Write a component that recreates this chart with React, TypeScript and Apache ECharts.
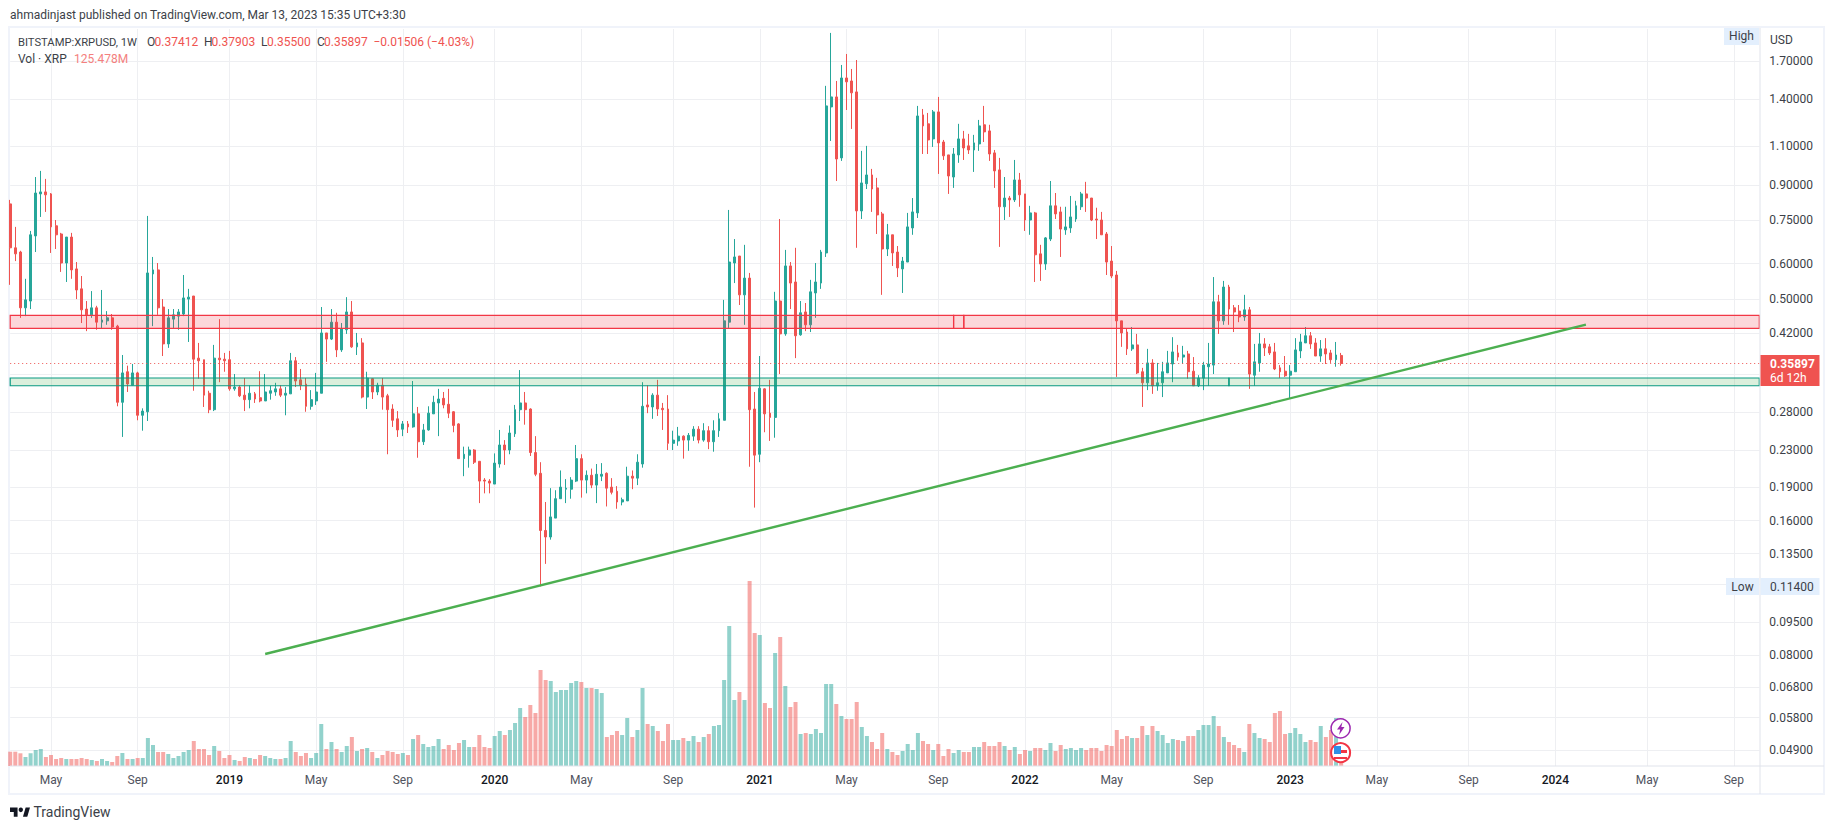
import React, { useEffect, useRef } from "react";
import * as echarts from "echarts";

// [open, high, low, close] per week
const ohlc2018 = [[.816,.833,.538,.651],[.651,.725,.608,.631],[.637,.641,.454,.478],[.478,.555,.458,.498],[.495,.710,.475,.696],[.692,.937,.637,.863],[.859,.967,.763,.868],[.868,.928,.783,.855],[.859,.863,.634,.725],[.729,.751,.647,.696],[.699,.703,.575,.602],[.602,.688,.546,.688],[.688,.703,.555,.581],[.584,.605,.500,.524],[.527,.563,.442,.473],[.475,.495,.424,.461],[.461,.521,.454,.478],[.478,.483,.427,.444],[.444,.524,.431,.449],[.447,.470,.438,.454],[.454,.463,.427,.433],[.435,.438,.288,.294],[.294,.375,.246,.342],[.344,.355,.310,.323],[.321,.358,.321,.342],[.342,.344,.268,.275],[.275,.285,.254,.281],[.280,.767,.267,.572],[.569,.621,.435,.581],[.581,.602,.461,.478],[.480,.500,.373,.397],[.397,.475,.389,.454],[.451,.475,.431,.461],[.458,.475,.427,.468],[.463,.566,.458,.503],[.500,.527,.401,.505],[.508,.508,.312,.367],[.369,.399,.332,.364],[.366,.366,.287,.305],[.308,.312,.278,.283],[.283,.395,.281,.369],[.369,.451,.326,.366],[.367,.379,.344,.364]];
const ohlc2019 = [[.366,.383,.312,.315],[.315,.340,.312,.318],[.318,.321,.302,.304],[.305,.333,.281,.298],[.298,.321,.285,.308],[.307,.310,.293,.299],[.301,.345,.294,.296],[.296,.340,.296,.310],[.308,.320,.298,.312],[.310,.325,.304,.315],[.315,.321,.302,.305],[.305,.318,.275,.308],[.307,.379,.307,.364],[.364,.371,.318,.328],[.330,.349,.313,.321],[.323,.333,.280,.288],[.288,.313,.283,.298],[.296,.342,.290,.310],[.308,.480,.308,.420],[.420,.420,.362,.407],[.407,.475,.405,.444],[.444,.466,.371,.385],[.385,.442,.381,.429],[.427,.505,.418,.468],[.468,.495,.389,.391],[.391,.420,.375,.399],[.399,.409,.300,.302],[.302,.344,.284,.333],[.332,.333,.299,.310],[.310,.325,.305,.321],[.321,.333,.283,.302],[.304,.307,.225,.283],[.284,.291,.259,.268],[.270,.281,.246,.255],[.256,.267,.247,.263],[.263,.267,.251,.259],[.259,.328,.258,.277],[.277,.287,.221,.240],[.240,.263,.236,.255],[.255,.288,.254,.278],[.277,.304,.277,.294],[.293,.315,.247,.299],[.300,.310,.285,.290],[.291,.315,.271,.278],[.280,.281,.252,.261],[.263,.264,.220,.220],[.220,.234,.201,.225],[.224,.234,.210,.230],[.230,.231,.214,.216],[.217,.217,.175,.196],[.197,.199,.184,.196],[.196,.198,.184,.194]];
const ohlc2020 = [[.193,.226,.193,.215],[.214,.255,.210,.236],[.236,.242,.213,.230],[.230,.261,.225,.251],[.250,.290,.246,.283],[.283,.347,.267,.293],[.293,.310,.262,.283],[.284,.285,.223,.227],[.227,.247,.201,.203],[.204,.216,.114,.152],[.152,.176,.128,.147],[.147,.189,.145,.163],[.162,.187,.162,.179],[.179,.207,.179,.190],[.188,.198,.175,.189],[.188,.200,.179,.197],[.196,.236,.195,.220],[.220,.225,.180,.197],[.197,.207,.184,.202],[.202,.209,.189,.192],[.192,.214,.175,.203],[.201,.215,.196,.203],[.204,.205,.172,.189],[.190,.199,.183,.185],[.186,.191,.170,.176],[.176,.180,.173,.178],[.177,.211,.177,.201],[.201,.207,.188,.199],[.199,.225,.192,.216],[.214,.326,.210,.288],[.290,.321,.278,.287],[.287,.308,.270,.305],[.305,.330,.274,.284],[.285,.293,.255,.283],[.284,.305,.230,.238],[.238,.254,.230,.242],[.241,.259,.235,.247],[.247,.248,.220,.242],[.242,.251,.229,.248],[.247,.260,.241,.256],[.256,.260,.238,.242],[.242,.264,.240,.254],[.254,.260,.231,.240],[.240,.268,.228,.254],[.254,.278,.246,.270],[.268,.498,.268,.447],[.444,.791,.431,.605],[.602,.681,.543,.621],[.624,.624,.485,.511],[.511,.661,.438,.557],[.557,.572,.211,.283],[.284,.310,.171,.224]];
const ohlc2021 = [[.225,.373,.216,.316],[.315,.316,.252,.277],[.278,.330,.241,.272],[.272,.519,.245,.495],[.495,.755,.340,.418],[.418,.644,.414,.593],[.593,.605,.475,.543],[.546,.651,.369,.414],[.416,.495,.414,.466],[.468,.490,.424,.438],[.438,.552,.422,.519],[.516,.602,.454,.546],[.543,.644,.527,.637],[.634,1.498,.621,1.351],[1.344,1.967,1.128,1.415],[1.415,1.536,.918,1.028],[1.034,1.668,1.018,1.560],[1.560,1.765,1.323,1.529],[1.536,1.634,1.200,1.445],[1.452,1.711,.651,.787],[.787,1.072,.755,.909],[.905,1.100,.881,.947],[.947,.977,.783,.881],[.886,.933,.699,.771],[.775,.783,.511,.647],[.647,.736,.624,.696],[.696,.696,.593,.634],[.637,.657,.560,.587],[.584,.621,.516,.608],[.605,.779,.605,.725],[.721,.841,.696,.783],[.779,1.351,.759,1.283],[1.290,1.330,1.055,1.219],[1.232,1.303,1.055,1.134],[1.140,1.323,1.094,1.310],[1.310,1.415,.952,1.117],[1.122,1.134,1.023,1.045],[1.050,1.050,.859,.942],[.937,1.088,.886,1.055],[1.050,1.232,1.008,1.140],[1.140,1.188,1.023,1.088],[1.100,1.170,1.055,1.077],[1.077,1.164,.962,1.117],[1.111,1.257,1.072,1.219],[1.226,1.351,1.122,1.182],[1.188,1.226,1.018,1.055],[1.061,1.077,.886,.967],[.972,1.034,.654,.804],[.804,.937,.751,.841],[.841,.850,.763,.833],[.833,1.023,.824,.923],[.923,.957,.804,.855]];
const ohlc2022 = [[.859,.859,.710,.751],[.751,.808,.696,.779],[.779,.783,.546,.628],[.631,.661,.549,.599],[.599,.688,.581,.685],[.681,.918,.674,.808],[.808,.863,.755,.775],[.783,.804,.621,.717],[.714,.804,.696,.725],[.721,.850,.703,.763],[.755,.829,.744,.808],[.804,.868,.791,.859],[.859,.914,.783,.841],[.841,.841,.747,.751],[.755,.800,.681,.751],[.751,.783,.696,.696],[.699,.706,.566,.605],[.608,.657,.557,.563],[.566,.578,.335,.447],[.447,.447,.391,.420],[.422,.429,.375,.387],[.387,.433,.383,.395],[.395,.418,.340,.342],[.344,.351,.287,.325],[.325,.387,.313,.360],[.360,.367,.307,.320],[.320,.360,.312,.325],[.325,.362,.302,.344],[.342,.383,.342,.360],[.358,.411,.326,.381],[.379,.395,.364,.371],[.371,.393,.358,.375],[.377,.383,.332,.344],[.345,.371,.320,.320],[.320,.338,.318,.333],[.333,.362,.313,.356],[.353,.399,.320,.358],[.356,.560,.340,.493],[.493,.511,.418,.447],[.447,.549,.438,.532],[.532,.538,.438,.475],[.478,.485,.422,.468],[.470,.485,.444,.456],[.456,.511,.447,.473],[.473,.480,.315,.340],[.338,.397,.320,.362],[.360,.420,.344,.397],[.397,.409,.373,.389],[.391,.397,.375,.379],[.381,.399,.347,.349],[.351,.356,.333,.344],[.345,.373,.335,.337]];
const ohlc2023 = [[.338,.356,.300,.345],[.344,.409,.344,.385],[.383,.418,.369,.401],[.399,.433,.399,.414],[.414,.422,.387,.397],[.399,.409,.373,.373],[.373,.405,.362,.387],[.387,.409,.358,.377],[.379,.385,.360,.366],[.366,.401,.353,.375],[.37412,.37903,.355,.35897]];

// weekly volume in millions of XRP
const vol2018 = [143,143,127,90,127,160,170,90,110,70,80,70,70,70,80,70,60,50,70,50,40,100,130,70,70,80,80,280,210,140,140,120,80,100,140,160,250,170,170,110,200,150,80];
const vol2019 = [110,60,50,90,80,70,110,100,80,70,70,80,250,140,100,130,80,130,420,170,240,170,140,200,290,150,170,180,140,80,110,150,140,120,130,110,270,310,220,190,200,270,170,210,160,230,260,190,190,310,190,180];
const vol2020 = [300,350,310,360,430,580,490,610,530,960,860,850,740,760,760,830,850,840,780,780,770,730,290,310,350,310,480,290,360,780,420,400,350,250,420,260,260,280,250,300,240,290,320,400,410,860,1400,660,740,660,1850,1330];
const vol2021 = [1310,630,580,1130,1290,800,590,640,320,330,320,370,330,820,820,620,500,470,470,640,390,300,240,170,330,170,140,110,150,220,160,330,250,220,160,220,100,170,130,160,140,140,190,190,240,200,200,240,200,160,190,120];
const vol2022 = [160,150,180,180,160,230,150,210,170,180,160,180,160,180,180,150,210,200,360,270,300,280,280,400,310,400,350,310,230,270,260,250,300,300,360,410,410,500,400,290,240,210,180,140,420,330,280,270,240,530,550,320];
const vol2023 = [330,380,320,240,260,240,400,290,360,480,125.478];

const weekCount = 344;
const firstWeek = "2018-03-12";
const tickWeeks = [8,25,43,60,77,95,112,130,147,164,182,199,216,234,251,268,286,303,321,338];
const tickNames = ["May","Sep","2019","May","Sep","2020","May","Sep","2021","May","Sep","2022","May","Sep","2023","May","Sep","2024","May","Sep"];
const priceLabels = [1.7,1.4,1.1,.9,.75,.6,.5,.42,.28,.23,.19,.16,.135,.095,.08,.068,.058,.049];
const priceGrid = [1.7,1.4,1.1,.9,.75,.6,.5,.42,.34,.28,.23,.19,.16,.135,.115,.095,.08,.068,.058,.049];
const priceMin = 0.04524;
const priceMax = 2.007;
const volumeMax = 7370;
const lastClose = 0.35897;
const redZone = [0.46, 0.43];
const redBreaks = [185, 187];
const greenZone = [0.3331, 0.3201];
const greenBreaks = [239];
const lastWeekIndex = 343;
const trendLine = [[50, 0.0805], [309, 0.4385]];

const UP = "#26a69a";
const DOWN = "#ef5350";
const GRID = "#eeeff2";
const TEXT = "#3c3f48";
const RED_EDGE = "#f23645";
const GREEN_EDGE = "#089981";
const FONT = "Roboto, 'Open Sans', sans-serif";

const ohlc = [...ohlc2018, ...ohlc2019, ...ohlc2020, ...ohlc2021, ...ohlc2022, ...ohlc2023];
const volumes = [...vol2018, ...vol2019, ...vol2020, ...vol2021, ...vol2022, ...vol2023];
const categories = Array.from({ length: weekCount }, (_, i) => {
  const d = new Date(Date.parse(firstWeek) + i * 7 * 86400000);
  return d.toISOString().slice(0, 10);
});
const tickMap = new Map(tickWeeks.map((w, i) => [w, tickNames[i]]));

const zonePieces = (zone: number[], breaks: number[], fill: string, edge: string) => {
  const stops = [0, ...breaks, lastWeekIndex];
  return stops.slice(0, -1).map((b, i) => [
    { xAxis: b, yAxis: zone[0], itemStyle: { color: fill, borderColor: edge, borderWidth: 1.2 } },
    { xAxis: stops[i + 1], yAxis: zone[1] },
  ]);
};

const txt = (text: string, x: number, y: number, fill: string, font = `12px ${FONT}`, align = "left") => ({
  type: "text",
  silent: true,
  z: 20,
  style: { text, x, y, fill, font, align, verticalAlign: "middle" },
});

export default function App() {
  const ref = useRef<HTMLDivElement>(null);
  useEffect(() => {
    document.body.style.margin = "0";
    const chart = echarts.init(ref.current!, null, { renderer: "svg" });
    chart.setOption({
      animation: false,
      backgroundColor: "#ffffff",
      textStyle: { fontFamily: FONT },
      grid: { left: 10.2, right: 74.7, top: 29, bottom: 63, containLabel: false },
      xAxis: {
        type: "category",
        boundaryGap: false,
        data: categories,
        axisLine: { show: false },
        axisTick: { show: false },
        splitLine: {
          show: true,
          interval: (i: number) => tickMap.has(i),
          lineStyle: { color: GRID, width: 1 },
        },
        axisLabel: {
          interval: (i: number) => tickMap.has(i),
          margin: 8,
          fontSize: 12,
          fontFamily: FONT,
          color: "#50535e",
          formatter: (_: string, i: number) => {
            const n = tickMap.get(i) ?? "";
            return /\d/.test(n) ? `{y|${n}}` : n;
          },
          rich: { y: { color: "#131722", fontSize: 12, fontFamily: FONT, fontWeight: 500 } },
        },
      },
      yAxis: [
        {
          type: "log",
          logBase: 10,
          position: "right",
          min: priceMin,
          max: priceMax,
          axisLine: { show: false },
          axisTick: { show: false, customValues: priceGrid },
          splitLine: { show: true, customValues: priceGrid, lineStyle: { color: GRID, width: 1 } },
          axisLabel: {
            customValues: priceLabels,
            margin: 10,
            fontSize: 12,
            fontFamily: FONT,
            color: TEXT,
            formatter: (v: number) => Number(v).toFixed(5),
          },
        },
        { type: "value", show: false, min: 0, max: volumeMax, splitLine: { show: false } },
      ],
      series: [
        {
          name: "Vol",
          type: "bar",
          yAxisIndex: 1,
          barWidth: 4,
          z: 1,
          data: volumes.map((v, i) => ({
            value: v,
            itemStyle: {
              color: ohlc[i][3] >= ohlc[i][0] ? "rgba(38,166,154,0.5)" : "rgba(239,83,80,0.5)",
            },
          })),
        },
        {
          name: "XRPUSD",
          type: "candlestick",
          yAxisIndex: 0,
          barWidth: 2.4,
          z: 2,
          itemStyle: { color: UP, color0: DOWN, borderColor: UP, borderColor0: DOWN, borderWidth: 1 },
          data: ohlc.map(([o, h, l, c]) => [o, c, l, h]),
          markLine: {
            silent: true,
            symbol: "none",
            z: 4,
            label: { show: false },
            lineStyle: { color: DOWN, type: [1, 3], width: 1 },
            data: [{ yAxis: lastClose }],
          },
        },
        {
          name: "Trend",
          type: "line",
          yAxisIndex: 0,
          z: 6,
          symbol: "none",
          silent: true,
          lineStyle: { color: "#4caf50", width: 2.4 },
          itemStyle: { color: "#4caf50" },
          data: trendLine,
          markArea: {
            silent: true,
            z: 5,
            label: { show: false },
            data: [
              ...zonePieces(redZone, redBreaks, "rgba(242,54,69,0.2)", RED_EDGE),
              ...zonePieces(greenZone, greenBreaks, "rgba(76,175,80,0.2)", GREEN_EDGE),
            ],
          },
        },
      ],
      graphic: [
        { type: "rect", silent: true, z: 0, shape: { x: 9, y: 27, width: 1815, height: 767 }, style: { fill: "none", stroke: "#f0f3fa", lineWidth: 2 } },
        { type: "line", silent: true, z: 10, shape: { x1: 1760, y1: 28, x2: 1760, y2: 794 }, style: { stroke: "#e0e3eb", lineWidth: 1 } },
        { type: "line", silent: true, z: 10, shape: { x1: 10, y1: 766, x2: 1824, y2: 766 }, style: { stroke: "#e0e3eb", lineWidth: 1 } },

        txt("ahmadinjast published on TradingView.com, Mar 13, 2023 15:35 UTC+3:30", 10, 15, TEXT),
        txt("BITSTAMP:XRPUSD, 1W", 18, 42, TEXT, `11.2px ${FONT}`),
        txt("O", 147, 42, TEXT), txt("0.37412", 154.5, 42, DOWN),
        txt("H", 204, 42, TEXT), txt("0.37903", 211.5, 42, DOWN),
        txt("L", 261, 42, TEXT), txt("0.35500", 267, 42, DOWN),
        txt("C", 317, 42, TEXT), txt("0.35897", 324, 42, DOWN),
        txt("\u22120.01506 (\u22124.03%)", 373.5, 42, DOWN),
        txt("Vol \u00b7 XRP", 18, 59, TEXT), txt("125.478M", 74, 59, "#f4807e"),
        txt("USD", 1770, 40, TEXT),

        { type: "rect", silent: true, z: 19, shape: { x: 1724, y: 28, width: 35, height: 17 }, style: { fill: "#e3effd" } },
        txt("High", 1741.5, 36, TEXT, `12px ${FONT}`, "center"),
        { type: "rect", silent: true, z: 19, shape: { x: 1726, y: 578, width: 33, height: 17 }, style: { fill: "#e3effd" } },
        txt("Low", 1742.5, 587, TEXT, `12px ${FONT}`, "center"),
        { type: "rect", silent: true, z: 19, shape: { x: 1760.5, y: 578, width: 59, height: 17 }, style: { fill: "#e3effd" } },
        txt("0.11400", 1770, 587, TEXT),

        { type: "rect", silent: true, z: 19, shape: { x: 1760.5, y: 355, width: 59, height: 31 }, style: { fill: DOWN } },
        txt("0.35897", 1770, 363.5, "#ffffff", `bold 12px ${FONT}`),
        txt("6d 12h", 1770, 378, "#ffffff"),

        { type: "circle", silent: true, z: 15, shape: { cx: 1340.6, cy: 728.3, r: 9.5 }, style: { fill: "#ffffff", stroke: "#9c27b0", lineWidth: 1.5 } },
        { type: "polygon", silent: true, z: 16, shape: { points: [[1342.5, 722], [1337, 729.5], [1340.2, 729.5], [1339, 735], [1344.5, 727], [1341.3, 727]] }, style: { fill: "#9c27b0" } },
        { type: "circle", silent: true, z: 15, shape: { cx: 1340.6, cy: 752.7, r: 9.5 }, style: { fill: "#ffffff", stroke: "#f23645", lineWidth: 2 } },
        { type: "rect", silent: true, z: 16, shape: { x: 1334, y: 746, width: 7, height: 8 }, style: { fill: "#2e8fe6" } },
        { type: "rect", silent: true, z: 16, shape: { x: 1341, y: 750, width: 6, height: 3 }, style: { fill: "#f23645" } },
        { type: "rect", silent: true, z: 16, shape: { x: 1334, y: 757, width: 13, height: 2 }, style: { fill: "#f23645" } },

        {
          type: "group",
          x: 10,
          y: 804,
          scaleX: 0.54,
          scaleY: 0.58,
          silent: true,
          children: [
            { type: "polygon", shape: { points: [[0, 6], [14, 6], [14, 22], [7, 22], [7, 14], [0, 14]] }, style: { fill: "#131722" } },
            { type: "circle", shape: { cx: 20, cy: 10, r: 4 }, style: { fill: "#131722" } },
            { type: "polygon", shape: { points: [[29, 6], [37, 6], [32, 22], [24, 22]] }, style: { fill: "#131722" } },
          ],
        },
        txt("TradingView", 33.5, 812, TEXT, `14px ${FONT}`),
      ],
    });
    return () => chart.dispose();
  }, []);
  return <div ref={ref} style={{ position: "absolute", left: 0, top: 0, width: 1834, height: 829, background: "#fff" }} />;
}
